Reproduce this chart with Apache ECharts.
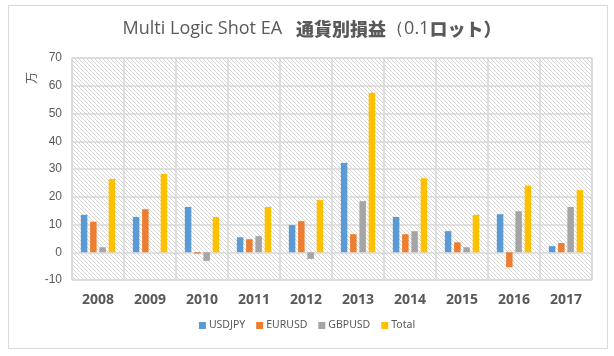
<!DOCTYPE html>
<html><head><meta charset="utf-8">
<script src="https://cdn.jsdelivr.net/npm/echarts@6/dist/echarts.min.js"></script>
<style>html,body{margin:0;padding:0;background:#fff;}#c{width:614px;height:356px;}</style>
</head><body><div id="c"></div>
<script>
const categories = ['2008','2009','2010','2011','2012','2013','2014','2015','2016','2017'];
const usdjpy = [13.5, 12.7, 16.3, 5.4, 9.8, 32.2, 12.7, 7.6, 13.7, 2.2];
const eurusd = [11.0, 15.5, -0.5, 4.7, 11.2, 6.5, 6.5, 3.6, -5.4, 3.3];
const gbpusd = [1.8, 0, -3.1, 5.8, -2.4, 18.4, 7.6, 1.8, 14.8, 16.3];
const total = [26.4, 28.2, 12.7, 16.3, 18.8, 57.5, 26.7, 13.5, 24.0, 22.4];
const seriesNames = ['USDJPY','EURUSD','GBPUSD','Total'];
const colors = ['#5B9BD5','#ED7D31','#A5A5A5','#FFC000'];

const pc = document.createElement('canvas');
pc.width = 4; pc.height = 4;
const g = pc.getContext('2d');
g.fillStyle = '#ffffff'; g.fillRect(0,0,4,4);
g.fillStyle = '#d6d6d6';
for (let i = 0; i < 4; i++) { g.fillRect(i, i, 1, 1); }

const chart = echarts.init(document.getElementById('c'));
const data = [usdjpy, eurusd, gbpusd, total];
chart.setOption({
  animation: false,
  title: {
    text: '{a|Multi Logic Shot EA   }{b|通貨別損益}{a|（0.1}{b|ロット）}',
    left: 307, top: 15, textAlign: 'center',
    textStyle: { fontWeight: 'normal', rich: {
      a: { fontFamily: 'Open Sans, Noto Sans', fontSize: 18, fontWeight: 'normal', color: '#595959' },
      b: { fontFamily: 'Noto Sans CJK JP', fontSize: 18, fontWeight: 900, color: '#595959' }
    } }
  },
  graphic: [
    { type: 'rect', shape: { x: 8.5, y: 5.5, width: 599, height: 343 }, style: { fill: 'none', stroke: '#d9d9d9', lineWidth: 1 }, z: -10 },
    { type: 'text', x: 31, y: 78, rotation: Math.PI/2, style: { text: '万', fontSize: 12, fill: '#595959', fontFamily: 'Noto Sans CJK JP', textAlign: 'center', textVerticalAlign: 'middle' } }
  ],
  legend: {
    data: seriesNames, bottom: 20, left: 'center', itemWidth: 7, itemHeight: 7, itemGap: 11,
    icon: 'rect',
    textStyle: { color: '#595959', fontSize: 10.5, fontFamily: 'Noto Sans', padding: [0,0,0,-2] }
  },
  grid: { left: 72, right: 22, top: 58, bottom: 76, show: true, borderColor: '#d9d9d9', borderWidth: 1,
    backgroundColor: { image: pc, repeat: 'repeat' } },
  xAxis: {
    type: 'category', data: categories,
    axisLine: { show: false }, axisTick: { show: false },
    splitLine: { show: true, interval: 0, lineStyle: { color: '#d9d9d9', width: 1.5 } },
    axisLabel: { color: '#595959', fontSize: 14, fontWeight: 'bold', fontFamily: 'Open Sans, Noto Sans', margin: 13 }
  },
  yAxis: {
    type: 'value', min: -10, max: 70, interval: 10,
    axisLine: { show: false }, axisTick: { show: false },
    splitLine: { lineStyle: { color: '#d9d9d9', width: 1.5 } },
    axisLabel: { color: '#595959', fontSize: 12, fontFamily: 'Liberation Sans, Arial', margin: 10 }
  },
  series: seriesNames.map((n, i) => ({
    name: n, type: 'bar', data: data[i], barGap: '43%', barCategoryGap: '34%',
    itemStyle: { color: colors[i] }
  }))
});
</script></body></html>
